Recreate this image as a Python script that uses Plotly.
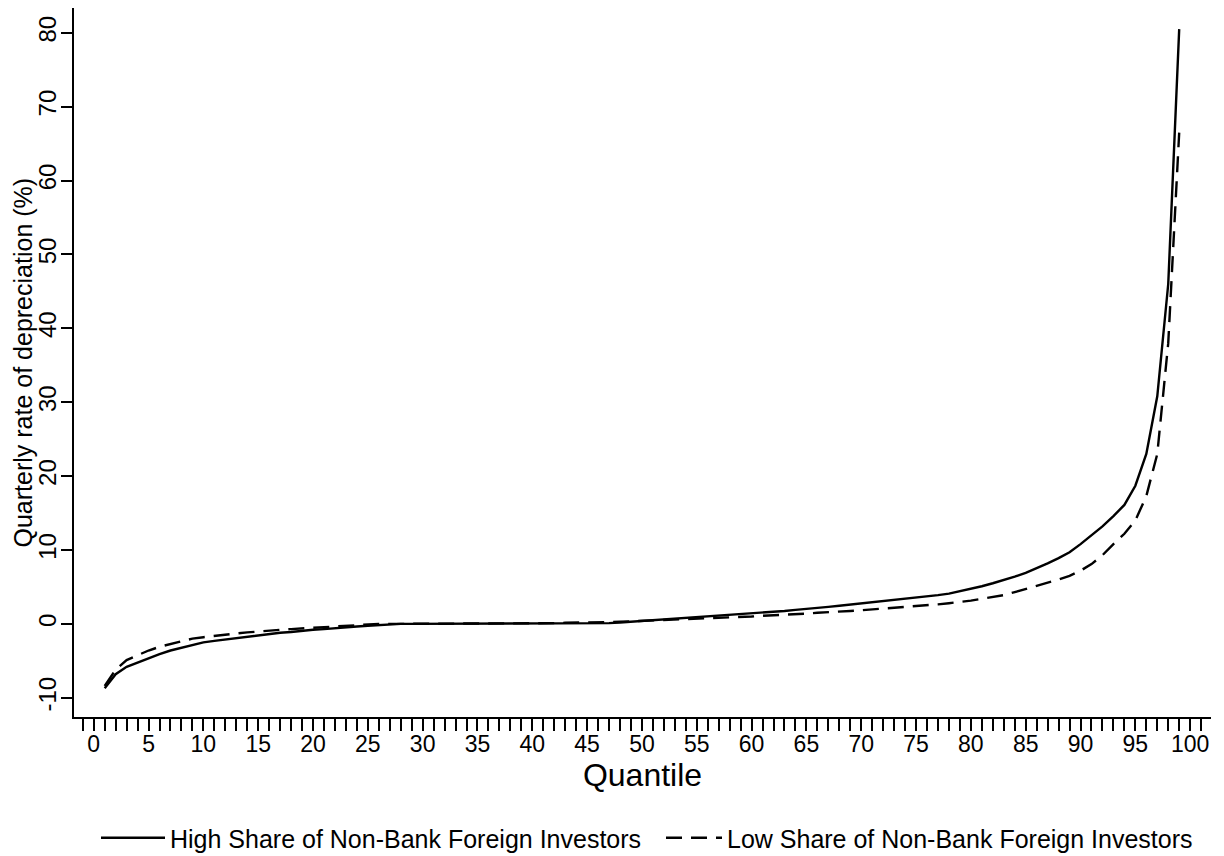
import plotly.graph_objects as go

quantiles = list(range(1, 100))

high_share = [
    -8.7, -6.8, -5.8, -5.2, -4.6, -4.1, -3.6, -3.2, -2.8, -2.5,
    -2.3, -2.1, -1.9, -1.7, -1.5, -1.4, -1.2, -1.1, -0.9, -0.8,
    -0.7, -0.55, -0.45, -0.35, -0.25, -0.15, -0.05, 0.0, 0.0, 0.0,
    0.0, 0.0, 0.0, 0.0, 0.0, 0.0, 0.0, 0.0, 0.0, 0.0,
    0.0, 0.0, 0.0, 0.0, 0.0, 0.05, 0.1, 0.2, 0.3, 0.35,
    0.45, 0.55, 0.65, 0.75, 0.85, 0.95, 1.05, 1.15, 1.25, 1.35,
    1.5, 1.6, 1.75, 1.9, 2.0, 2.15, 2.3, 2.45, 2.6, 2.75,
    2.9, 3.05, 3.2, 3.35, 3.5, 3.7, 3.9, 4.1, 4.4, 4.7,
    5.1, 5.5, 5.9, 6.4, 6.9, 7.5, 8.2, 8.9, 9.7, 10.8,
    12.0, 13.2, 14.6, 16.1, 18.7, 23.0, 30.8, 46.0, 80.5,
]

low_share = [
    -8.4, -6.2, -4.9, -4.2, -3.6, -3.1, -2.7, -2.3, -2.0, -1.8,
    -1.6, -1.45, -1.3, -1.15, -1.0, -0.9, -0.8, -0.7, -0.6, -0.5,
    -0.4, -0.3, -0.2, -0.1, -0.05, 0.0, 0.0, 0.0, 0.0, 0.0,
    0.0, 0.0, 0.0, 0.0, 0.0, 0.02, 0.03, 0.04, 0.05, 0.05,
    0.1, 0.1, 0.15, 0.15, 0.2, 0.2, 0.25, 0.3, 0.35, 0.4,
    0.45, 0.5, 0.55, 0.6, 0.7, 0.75, 0.8, 0.9, 0.95, 1.0,
    1.1, 1.15, 1.25, 1.3, 1.4, 1.5, 1.55, 1.65, 1.75, 1.85,
    1.95, 2.05, 2.15, 2.25, 2.4, 2.5, 2.65, 2.8, 2.95, 3.15,
    3.4, 3.65, 3.9, 4.3, 4.7, 5.1, 5.6, 6.0, 6.5, 7.2,
    8.1, 9.3, 10.8, 12.2, 14.0, 17.3, 23.0, 38.0, 66.5,
]

series_names = [
    "High Share of Non-Bank Foreign Investors",
    "Low Share of Non-Bank Foreign Investors",
]

x_tick_vals = list(range(0, 101, 5))
y_tick_vals = list(range(-10, 81, 10))
y_tick_text = ["-10", "0", "10", "20", "30", "40", "50", "60", "70", "80"]

FONT = "Arial, Liberation Sans, Helvetica, sans-serif"
# The page body has an 8px margin, so the figure is sized to fit the window.
FIG_W, FIG_H = 1216, 848
PLOT_L, PLOT_R, PLOT_T, PLOT_B = 66, 1203, 0, 709
PW = PLOT_R - PLOT_L
PH = PLOT_B - PLOT_T

fig = go.Figure()
fig.add_trace(go.Scatter(
    x=quantiles, y=high_share, mode="lines", name=series_names[0],
    line=dict(color="black", width=2.4, dash="solid"), legend="legend",
))
fig.add_trace(go.Scatter(
    x=quantiles, y=low_share, mode="lines", name=series_names[1],
    line=dict(color="black", width=2.4, dash="16px,9px"), legend="legend2",
))

legend_common = dict(
    orientation="h", yanchor="middle", y=(PLOT_B - 830) / PH, xanchor="left",
    font=dict(size=25, family=FONT, color="black"),
    bgcolor="rgba(0,0,0,0)", borderwidth=0,
)

fig.update_layout(
    width=FIG_W, height=FIG_H,
    margin=dict(l=PLOT_L, r=FIG_W - PLOT_R, t=PLOT_T, b=FIG_H - PLOT_B, autoexpand=False),
    paper_bgcolor="white", plot_bgcolor="white",
    font=dict(family=FONT, color="black"),
    showlegend=True,
    legend=dict(legend_common, x=(88 - PLOT_L) / PW, itemwidth=64),
    legend2=dict(legend_common, x=(653 - PLOT_L) / PW, itemwidth=56),
    xaxis=dict(
        range=[-1.8, 101.9], tickvals=x_tick_vals, automargin=False,
        ticks="outside", ticklen=12, tickwidth=1.5, tickcolor="black",
        minor=dict(dtick=1, tick0=0, ticks="outside", ticklen=12, tickwidth=1.5, tickcolor="black"),
        showline=True, linecolor="black", linewidth=1.5,
        showgrid=False, zeroline=False, ticklabelstandoff=-6,
        tickfont=dict(size=23, family=FONT, color="black"),
        title=dict(text="Quantile", font=dict(size=32, family=FONT, color="black"), standoff=4),
    ),
    yaxis=dict(
        range=[-12.6, 83.36], tickvals=y_tick_vals, ticktext=y_tick_text, automargin=False,
        ticks="outside", ticklen=11, tickwidth=1.5, tickcolor="black",
        showline=True, linecolor="black", linewidth=1.5,
        showgrid=False, zeroline=False, tickangle=-90, ticklabelstandoff=-4,
        tickfont=dict(size=24, family=FONT, color="black"),
    ),
    annotations=[dict(
        text="Quarterly rate of depreciation (%)", textangle=-90,
        xref="paper", yref="paper", x=(14 - PLOT_L) / PW, y=0.5,
        xanchor="center", yanchor="middle", showarrow=False,
        font=dict(size=25, family=FONT, color="black"),
    )],
)

fig.write_html("out.html")
